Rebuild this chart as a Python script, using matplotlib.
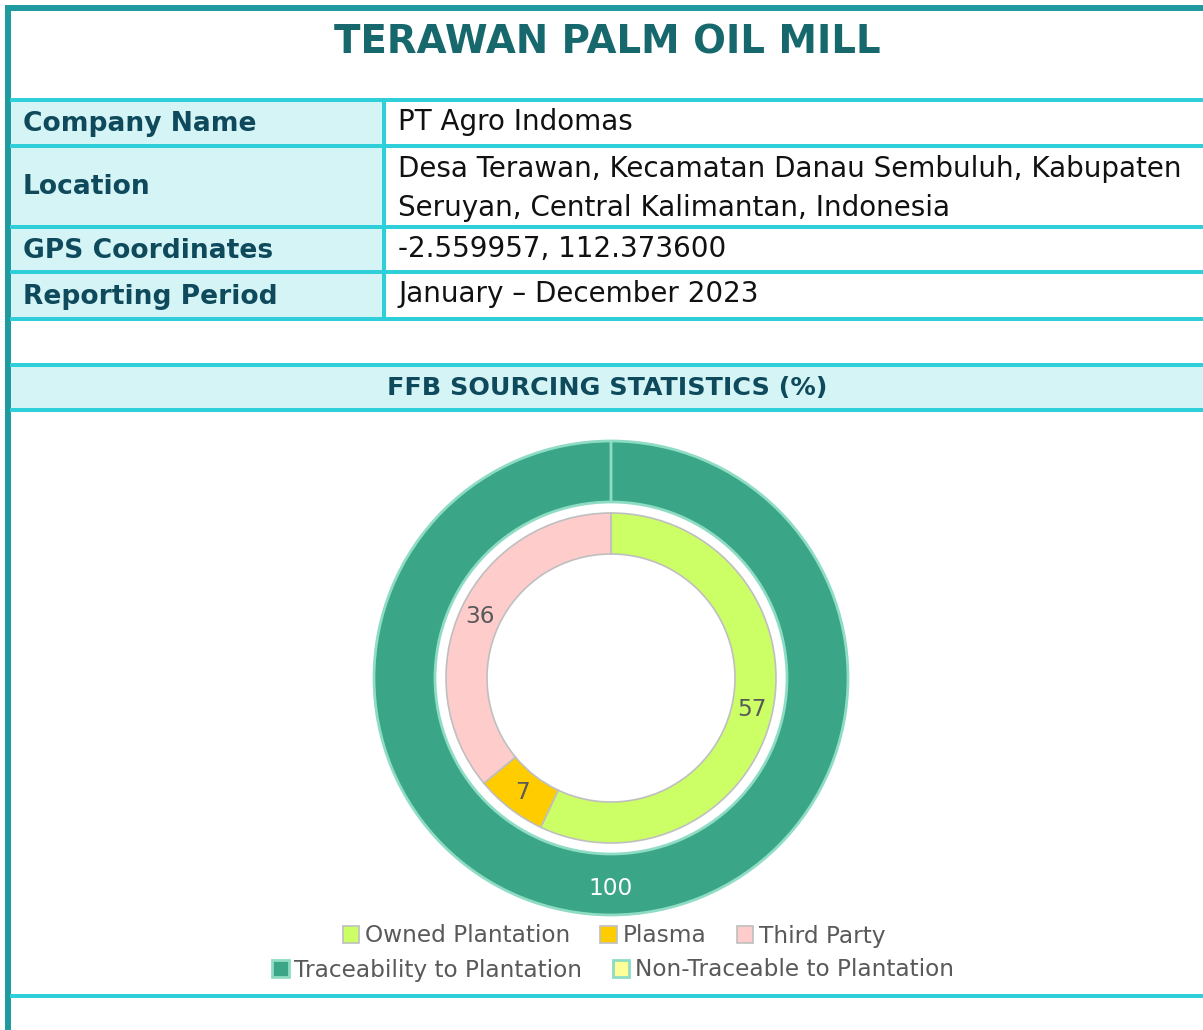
import matplotlib
matplotlib.use("Agg")
import matplotlib.pyplot as plt
from matplotlib.patches import Rectangle

plt.rcParams['font.family'] = ['DejaVu Sans']

# data
title = "TERAWAN PALM OIL MILL"
info_labels = ["Company Name", "Location", "GPS Coordinates", "Reporting Period"]
info_values = [
    "PT Agro Indomas",
    "Desa Terawan, Kecamatan Danau Sembuluh, Kabupaten\nSeruyan, Central Kalimantan, Indonesia",
    "-2.559957, 112.373600",
    "January \u2013 December 2023",
]
section_title = "FFB SOURCING STATISTICS (%)"

source_labels = ["Owned Plantation", "Plasma", "Third Party"]
source_values = [57, 7, 36]
trace_labels = ["Traceability to Plantation", "Non-Traceable to Plantation"]
trace_values = [100, 0]

# colours
dark_teal = "#1f9b9f"
cyan = "#2ecfd8"
light_cyan = "#d4f4f6"
title_col = "#17686c"
label_col = "#0e4a5c"
source_colors = ["#ccff66", "#ffcc00", "#ffcccc"]
trace_colors = ["#3aa687", "#ffff99"]

W, H = 1203, 1030
fig = plt.figure(figsize=(W / 100, H / 100), dpi=100)
renderer = fig.canvas.get_renderer()


def size_for(text, target_px, weight='normal', base=20):
    # font size that makes the text about target_px wide
    t = fig.text(0, 0, text, fontsize=base, fontweight=weight)
    w = t.get_window_extent(renderer=renderer).width
    t.remove()
    return base * target_px / w


fs_title = size_for(title, 545, 'bold')
fs_label = size_for("Company Name", 233, 'bold')
fs_body = size_for(info_values[1].split("\n")[0], 783)
fs_section = size_for(section_title, 439, 'bold')
fs_legend = size_for("Owned Plantation", 206)

# background axes in pixel coordinates
bg = fig.add_axes([0, 0, 1, 1])
bg.set_xlim(0, W)
bg.set_ylim(H, 0)
bg.axis('off')

# row layout (pixels)
row_edges = [100, 146, 227, 272, 319]
col_split = 384
lw = 4 * 0.72

for i in range(len(info_labels)):
    y0, y1 = row_edges[i], row_edges[i + 1]
    bg.add_patch(Rectangle((10, y0), col_split - 10, y1 - y0, facecolor=light_cyan, edgecolor='none'))
    bg.text(23, (y0 + y1) / 2 + 1, info_labels[i], fontsize=fs_label, fontweight='bold',
            color=label_col, va='center', ha='left')
    lines = info_values[i].split("\n")
    if len(lines) == 1:
        bg.text(398, (y0 + y1) / 2 - 1, lines[0], fontsize=fs_body, color='#111111', va='center', ha='left')
    else:
        for k, ln in enumerate(lines):
            bg.text(398, y0 + 23 + 39 * k, ln, fontsize=fs_body, color='#111111', va='center', ha='left')

for y in row_edges:
    bg.plot([10, W], [y, y], color=cyan, lw=lw, solid_capstyle='butt')
bg.plot([col_split, col_split], [row_edges[0], row_edges[-1]], color=cyan, lw=lw, solid_capstyle='butt')

# section header band
bg.add_patch(Rectangle((10, 365), W - 10, 45, facecolor=light_cyan, edgecolor='none'))
bg.plot([10, W], [365, 365], color=cyan, lw=lw, solid_capstyle='butt')
bg.plot([10, W], [410, 410], color=cyan, lw=lw, solid_capstyle='butt')
bg.text(607, 388, section_title, fontsize=fs_section, fontweight='bold', color=label_col,
        ha='center', va='center')

# bottom line
bg.plot([10, W], [996, 996], color=cyan, lw=lw, solid_capstyle='butt')

# outer dark border (left and top)
bg.add_patch(Rectangle((5, 5), 6, H - 5, facecolor=dark_teal, edgecolor='none'))
bg.add_patch(Rectangle((5, 5), W - 5, 6, facecolor=dark_teal, edgecolor='none'))

# title
bg.text(607, 43, title, fontsize=fs_title, fontweight='bold', color=title_col, ha='center', va='center')

# donut chart
cx, cy, R = 611, 678, 237
ax = fig.add_axes([(cx - R) / W, (H - cy - R) / H, 2 * R / W, 2 * R / H])
ax.set_aspect('equal')
ax.axis('off')

outer_w = 61 / R
inner_r = 165 / R
inner_w = 41 / R

outer, _, outer_txt = ax.pie(
    trace_values, radius=1.0, colors=trace_colors, startangle=90, counterclock=False,
    autopct=lambda p: f"{p:.0f}" if p > 0 else "", pctdistance=(1 - outer_w / 2) * 1.02,
    wedgeprops=dict(width=outer_w, edgecolor="#8fdcc4", linewidth=2),
    textprops=dict(color='white', fontsize=fs_legend), normalize=True)

inner, _, inner_txt = ax.pie(
    source_values, radius=inner_r, colors=source_colors, startangle=90, counterclock=False,
    autopct=lambda p: f"{p:.0f}", pctdistance=(1 - inner_w / 2 / inner_r),
    wedgeprops=dict(width=inner_w, edgecolor="#bfbfbf", linewidth=1.2),
    textprops=dict(color='#595959', fontsize=fs_legend))
ax.set_xlim(-1, 1)
ax.set_ylim(-1, 1)

# legends
leg_kw = dict(frameon=False, fontsize=fs_legend, handlelength=0.7, handleheight=0.7,
              handletextpad=0.25, columnspacing=1.3, labelcolor='#595959', borderaxespad=0)
fig.legend(inner, source_labels, loc='center', ncol=3,
           bbox_to_anchor=(614 / W, 1 - 936 / H), **leg_kw)
fig.legend(outer, trace_labels, loc='center', ncol=2,
           bbox_to_anchor=(613 / W, 1 - 970 / H), **leg_kw)

plt.savefig('out.png', dpi=100)
